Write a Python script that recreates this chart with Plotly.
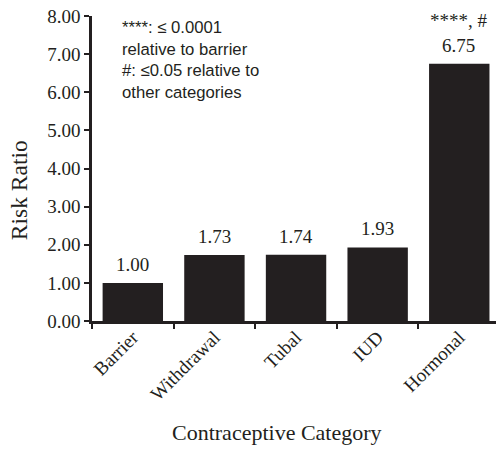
import plotly.graph_objects as go

categories = ["Barrier", "Withdrawal", "Tubal", "IUD", "Hormonal"]
risk_ratio = [1.00, 1.73, 1.74, 1.93, 6.75]
significance = ["", "", "", "", "****, #"]
y_ticks = [0, 1, 2, 3, 4, 5, 6, 7, 8]

serif = "Liberation Serif, Times New Roman, serif"
sans = "Liberation Sans, Arial, sans-serif"
ink = "#231f20"

fig = go.Figure(
    go.Bar(
        x=categories,
        y=risk_ratio,
        marker=dict(color=ink, line=dict(width=0)),
        hovertemplate="%{x}: %{y:.2f}<extra></extra>",
    )
)

# value labels (with significance marks) sitting just above each bar
for cat, val, sig in zip(categories, risk_ratio, significance):
    text = f"{sig}<br>{val:.2f}" if sig else f"{val:.2f}"
    fig.add_annotation(
        x=cat, y=val, xref="x", yref="y",
        xanchor="center", yanchor="bottom", yshift=6,
        showarrow=False, text=text,
        font=dict(family=serif, size=19, color=ink),
    )

# significance legend
fig.add_annotation(
    x=0.07, y=1.0, xref="paper", yref="paper",
    xanchor="left", yanchor="top", align="left", showarrow=False,
    text="****: ≤ 0.0001<br>relative to barrier<br>#: ≤0.05 relative to<br>other categories",
    font=dict(family=sans, size=16.7, color=ink),
)

# axis titles
fig.add_annotation(
    x=0.458, y=-0.365, xref="paper", yref="paper",
    xanchor="center", yanchor="middle", showarrow=False,
    text="Contraceptive Category",
    font=dict(family=serif, size=22, color=ink),
)
fig.add_annotation(
    x=-0.18, y=0.43, xref="paper", yref="paper",
    xanchor="center", yanchor="middle", showarrow=False, textangle=-90,
    text="Risk Ratio",
    font=dict(family=serif, size=23.5, color=ink),
)

fig.update_layout(
    width=496, height=449,
    margin=dict(l=92, r=0, t=16, b=128),
    paper_bgcolor="white", plot_bgcolor="white",
    bargap=0.26,
    showlegend=False,
    xaxis=dict(
        range=[-0.5, 4.45],
        tickson="boundaries",
        ticks="outside", ticklen=5, tickwidth=2, tickcolor=ink,
        showline=True, linecolor=ink, linewidth=2.5,
        tickangle=-45,
        ticklabelstandoff=-5,
        tickfont=dict(family=serif, size=19, color=ink),
        showgrid=False, zeroline=False,
    ),
    yaxis=dict(
        range=[0, 8],
        tickvals=y_ticks,
        tickformat=".2f",
        ticks="outside", ticklen=5, tickwidth=2, tickcolor=ink,
        showline=True, linecolor=ink, linewidth=2.5,
        tickfont=dict(family=serif, size=19, color=ink),
        showgrid=False, zeroline=False,
    ),
)

fig.write_html("out.html")
